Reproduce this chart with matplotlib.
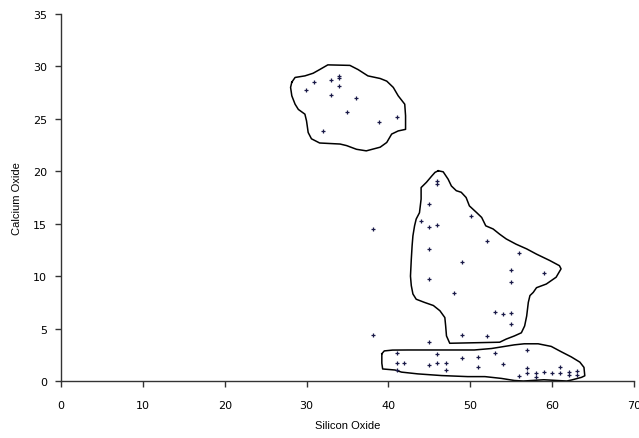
import matplotlib.pyplot as plt

plt.rcParams['font.family'] = ['Liberation Sans', 'DejaVu Sans']

# 樣本點（SiO2, CaO）
sio2 = [34.0, 34.0, 33.0, 30.9, 34.0, 29.9, 33.0, 36.0, 35.0, 41.0, 38.9, 32.0,
        46.0, 46.0, 45.0, 50.1, 44.0, 45.0, 46.0, 38.1, 52.0, 45.0, 56.0, 49.0,
        55.0, 59.0, 45.0, 55.0, 48.0, 53.0, 54.0, 55.0, 55.0, 38.1, 49.0, 52.0,
        45.0,
        57.0, 41.0, 45.9, 53.0, 49.0, 51.0, 41.0, 41.9, 45.0, 46.0, 47.0, 54.0,
        51.0, 41.0, 47.0, 56.0, 57.0, 57.0, 58.0, 58.0, 59.0, 60.0, 61.0, 61.0,
        62.1, 62.1, 63.0, 63.0]
cao = [29.1, 28.9, 28.7, 28.5, 28.1, 27.8, 27.3, 27.0, 25.7, 25.2, 24.7, 23.8,
       19.1, 18.8, 16.9, 15.7, 15.25, 14.7, 14.9, 14.5, 13.35, 12.55, 12.2, 11.35,
       10.6, 10.3, 9.7, 9.4, 8.4, 6.6, 6.35, 6.5, 5.4, 4.4, 4.4, 4.25,
       3.7,
       2.96, 2.65, 2.6, 2.65, 2.2, 2.3, 1.75, 1.75, 1.53, 1.7, 1.7, 1.62,
       1.3, 1.08, 1.05, 0.51, 1.2, 0.76, 0.74, 0.35, 0.88, 0.74, 1.3, 0.74,
       0.89, 0.53, 0.91, 0.62]

# 群集輪廓
top_x = [28.2, 28.6, 29.8, 30.8, 31.6, 32.6, 35.3, 36.3, 37.5, 39.0, 39.8, 40.6,
         41.2, 42.0, 42.1, 42.1, 41.2, 40.4, 39.8, 39.0, 37.3, 36.1, 34.9, 34.1,
         31.6, 30.6, 30.2, 30.0, 29.8, 29.0, 28.6, 28.2, 28.05, 28.2]
top_y = [28.5, 28.95, 29.1, 29.35, 29.7, 30.15, 30.1, 29.7, 29.1, 28.85, 28.6, 28.0,
         27.2, 26.4, 25.3, 24.0, 23.85, 23.55, 22.75, 22.3, 21.95, 22.1, 22.45, 22.6,
         22.7, 23.1, 23.7, 24.8, 25.45, 25.9, 26.4, 27.2, 28.0, 28.5]

mid_x = [46.1, 46.7, 47.3, 47.7, 48.3, 48.9, 49.5, 49.9, 50.8, 51.4, 51.9, 52.8,
         53.6, 54.4, 55.6, 56.9, 58.1, 59.7, 60.9, 61.1, 60.5, 59.3, 58.1, 57.7,
         57.3, 57.1, 56.9, 56.65, 56.25, 55.4, 54.4, 53.6, 47.5, 47.1, 47.0, 46.9,
         46.3, 45.5, 44.4, 43.4, 43.0, 42.8, 42.7, 42.8, 42.9, 43.0, 43.2, 43.4,
         43.8, 44.0, 44.0, 44.65, 45.3, 45.7, 46.1]
mid_y = [20.05, 19.95, 19.25, 18.6, 18.15, 18.0, 17.5, 16.7, 16.05, 15.6, 14.8, 14.5,
         14.0, 13.55, 13.05, 12.6, 12.1, 11.5, 11.0, 10.7, 9.9, 9.25, 8.9, 8.45,
         8.15, 7.5, 6.2, 5.25, 4.6, 4.3, 4.0, 3.7, 3.6, 4.3, 5.25, 6.05,
         6.7, 7.2, 7.5, 7.8, 8.3, 9.1, 10.0, 11.6, 12.9, 13.85, 14.8, 15.45,
         16.05, 17.35, 18.45, 18.95, 19.55, 19.9, 20.05]

bot_x = [39.2, 39.5, 40.5, 42.4, 46.0, 50.5, 52.6, 54.2, 55.4, 56.6, 58.3, 59.9,
         61.1, 62.35, 63.4, 63.9, 64.0, 63.6, 62.4, 61.8, 59.0, 56.5, 55.4, 53.8,
         51.8, 49.7, 46.5, 43.6, 41.6, 40.8, 39.3, 39.2, 39.2]
bot_y = [2.6, 2.87, 2.95, 2.96, 2.96, 2.96, 3.1, 3.3, 3.45, 3.55, 3.55, 3.3,
         2.8, 2.3, 1.8, 1.3, 0.5, 0.35, 0.1, 0.0, 0.12, 0.0, 0.05, 0.25,
         0.42, 0.42, 0.52, 0.68, 0.85, 1.05, 1.15, 1.7, 2.6]

fig = plt.figure(figsize=(6.39, 4.39), dpi=100)
ax = fig.add_axes([0.0955, 0.1298, 0.8965, 0.836])

for xs, ys in [(top_x, top_y), (mid_x, mid_y), (bot_x, bot_y)]:
    ax.plot(xs, ys, color='black', linewidth=1.1)

ax.plot(sio2, cao, linestyle='none', marker='+', markersize=3.5,
        markeredgewidth=0.9, color='#1a1a48')

ax.set_xlim(0, 70)
ax.set_ylim(0, 35)
ax.set_xticks(range(0, 71, 10))
ax.set_yticks(range(0, 36, 5))
ax.spines['top'].set_visible(False)
ax.spines['right'].set_visible(False)
for s in ['left', 'bottom']:
    ax.spines[s].set_color('#333333')
    ax.spines[s].set_linewidth(1.0)
ax.tick_params(direction='out', length=4, width=1, color='#333333',
               labelsize=8)
ax.tick_params(axis='x', pad=10)
ax.tick_params(axis='y', pad=6)
for lab in ax.get_xticklabels() + ax.get_yticklabels():
    lab.set_family(['DejaVu Sans'])
ax.set_xlabel('Silicon Oxide', fontsize=8, labelpad=7)
ax.set_ylabel('Calcium Oxide', fontsize=8, labelpad=8)

fig.savefig('out.png', dpi=100)
